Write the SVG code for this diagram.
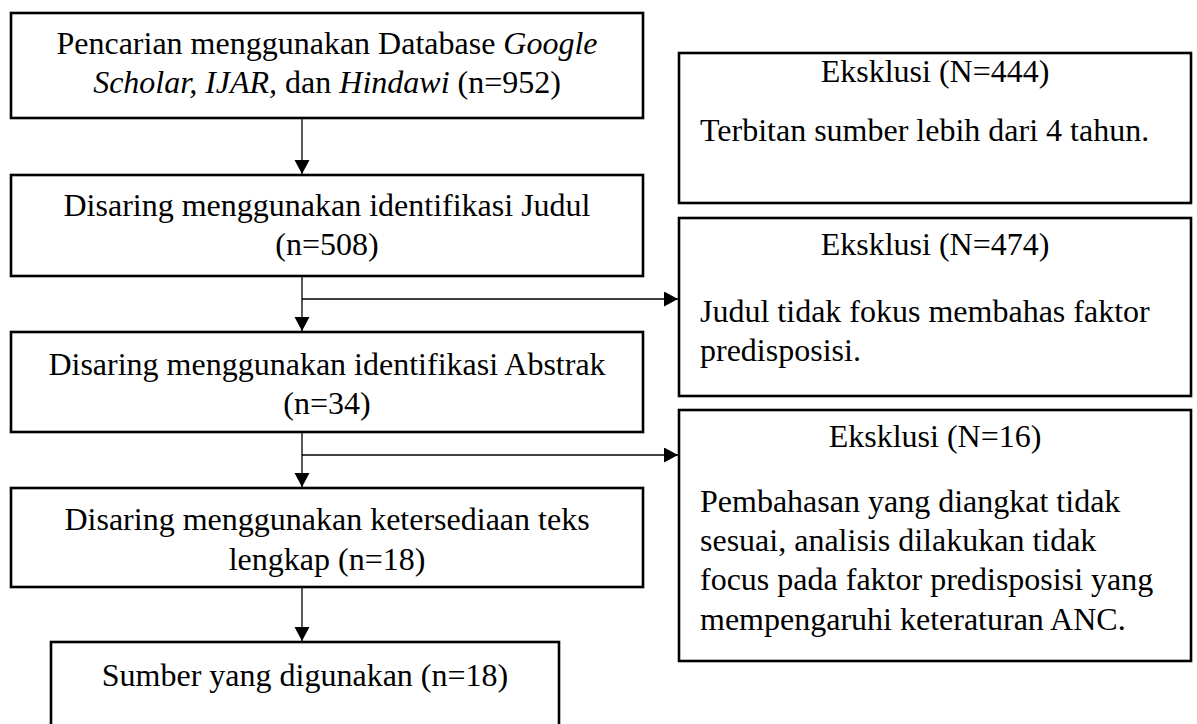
<svg xmlns="http://www.w3.org/2000/svg" width="1197" height="724" viewBox="0 0 1197 724">
<style>
.box{fill:#fff;stroke:#000;stroke-width:2.6}
.t{font-family:"Liberation Serif","Times New Roman",serif;font-size:32px;fill:#000}
.c{text-anchor:middle}
.ln{fill:none;stroke:#000;stroke-width:1.3}
</style>
<defs>
<marker id="ah" markerUnits="userSpaceOnUse" markerWidth="15" markerHeight="16" refX="14" refY="7.5" orient="auto" viewBox="0 0 15 16">
<path d="M0,0 L14,7.5 L0,15 z" fill="#000"/>
</marker>
</defs>
<rect width="1197" height="724" fill="#fff"/>
<g id="connectors">
<line class="ln" x1="302" y1="119" x2="302" y2="174" marker-end="url(#ah)"/>
<line class="ln" x1="302" y1="277" x2="302" y2="331" marker-end="url(#ah)"/>
<line class="ln" x1="302" y1="299" x2="678" y2="299" marker-end="url(#ah)"/>
<line class="ln" x1="302" y1="433" x2="302" y2="487" marker-end="url(#ah)"/>
<line class="ln" x1="302" y1="455" x2="678" y2="455" marker-end="url(#ah)"/>
<line class="ln" x1="302" y1="588" x2="302" y2="641" marker-end="url(#ah)"/>
</g>
<g id="n1">
<rect class="box" x="11" y="13" width="632" height="105"/>
<text class="t c" x="327" y="54">Pencarian menggunakan Database <tspan font-style="italic">Google</tspan></text>
<text class="t c" x="327" y="93"><tspan font-style="italic">Scholar, IJAR,</tspan> dan <tspan font-style="italic">Hindawi</tspan> (n=952)</text>
</g>
<g id="n2">
<rect class="box" x="11" y="175" width="632" height="101"/>
<text class="t c" x="327" y="216">Disaring menggunakan identifikasi Judul</text>
<text class="t c" x="327" y="255">(n=508)</text>
</g>
<g id="n3">
<rect class="box" x="11" y="332" width="632" height="100"/>
<text class="t c" x="327" y="375">Disaring menggunakan identifikasi Abstrak</text>
<text class="t c" x="327" y="414">(n=34)</text>
</g>
<g id="n4">
<rect class="box" x="11" y="488" width="632" height="99"/>
<text class="t c" x="327" y="530">Disaring menggunakan ketersediaan teks</text>
<text class="t c" x="327" y="570">lengkap (n=18)</text>
</g>
<g id="n5">
<rect class="box" x="51" y="642" width="508" height="100"/>
<text class="t c" x="305" y="686">Sumber yang digunakan (n=18)</text>
</g>
<g id="r1">
<rect class="box" x="679" y="53" width="512" height="150"/>
<text class="t c" x="935" y="82">Eksklusi (N=444)</text>
<text class="t" x="700" y="141">Terbitan sumber lebih dari 4 tahun.</text>
</g>
<g id="r2">
<rect class="box" x="679" y="218" width="512" height="178"/>
<text class="t c" x="935" y="255">Eksklusi (N=474)</text>
<text class="t" x="700" y="322">Judul tidak fokus membahas faktor</text>
<text class="t" x="700" y="361">predisposisi.</text>
</g>
<g id="r3">
<rect class="box" x="679" y="410" width="512" height="251"/>
<text class="t c" x="935" y="447">Eksklusi (N=16)</text>
<text class="t" x="700" y="512">Pembahasan yang diangkat tidak</text>
<text class="t" x="700" y="551">sesuai, analisis dilakukan tidak</text>
<text class="t" x="700" y="590">focus pada faktor predisposisi yang</text>
<text class="t" x="700" y="630">mempengaruhi keteraturan ANC.</text>
</g>
</svg>
